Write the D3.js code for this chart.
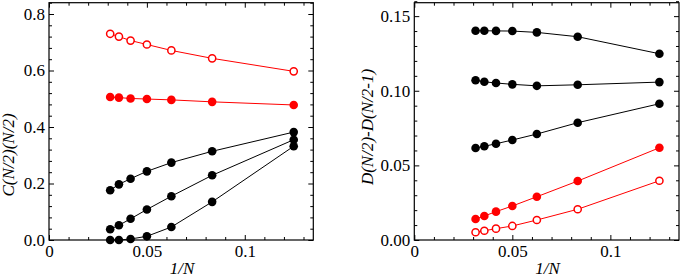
<!DOCTYPE html>
<html>
<head>
<meta charset="utf-8">
<script src="https://cdn.jsdelivr.net/npm/d3@7"></script>
<style>
  body { margin: 0; background: #fff; }
  svg text { font-family: "Times New Roman", Times, "Liberation Serif", serif; fill: #000; }
  .axis path { display: none; }
  .axis line { stroke: #000; stroke-width: 1; }
  .axis text { font-size: 17px; }
  .title { font-size: 17px; font-style: italic; }
</style>
</head>
<body>
<div id="chart"></div>
<script>
// 1/N for N = 32, 28, 24, 20, 16, 12, 8
const invN = [1 / 32, 1 / 28, 1 / 24, 1 / 20, 1 / 16, 1 / 12, 1 / 8];

// left panel: C(N/2)(N/2)
const cOpenRed = [0.730, 0.720, 0.706, 0.692, 0.671, 0.643, 0.597];
const cFilledRed = [0.506, 0.504, 0.501, 0.499, 0.496, 0.489, 0.478];
const cBlackTop = [0.176, 0.197, 0.217, 0.243, 0.274, 0.314, 0.382];
const cBlackMid = [0.038, 0.052, 0.075, 0.108, 0.155, 0.229, 0.355];
const cBlackLow = [0.000, 0.000, 0.0035, 0.013, 0.046, 0.135, 0.332];

// right panel: D(N/2)-D(N/2-1)
const dBlackTop = [0.1402, 0.1402, 0.1401, 0.1400, 0.1391, 0.1362, 0.1248];
const dBlackMid = [0.1070, 0.1060, 0.1052, 0.1043, 0.1033, 0.1040, 0.1058];
const dBlackLow = [0.0616, 0.0628, 0.0645, 0.0670, 0.0710, 0.0786, 0.0913];
const dFilledRed = [0.0141, 0.0161, 0.0190, 0.0228, 0.0290, 0.0395, 0.0618];
const dOpenRed = [0.0052, 0.0062, 0.0076, 0.0094, 0.0134, 0.0206, 0.0397];

const xMajor = [0, 0.05, 0.1];
const leftYMajor = [0, 0.2, 0.4, 0.6, 0.8];
const rightYMajor = [0, 0.05, 0.10, 0.15];

const width = 681, height = 277;
const serif = "Liberation Serif";

const svg = d3.select("#chart").append("svg")
  .attr("width", width)
  .attr("height", height);

function range(start, stop, step) {
  return d3.range(Math.round((stop - start) / step) + 1).map(i => +(start + i * step).toFixed(4));
}

function drawPanel(cfg) {
  const x = d3.scaleLinear().domain([0, 0.135]).range([cfg.left, cfg.right]);
  const y = d3.scaleLinear().domain(cfg.yDomain).range([240, 2.7]);
  const g = svg.append("g");

  const xMinor = range(0, 0.13, 0.01).filter(v => !xMajor.some(m => Math.abs(m - v) < 1e-6));
  const yMinor = range(0, cfg.yDomain[1], cfg.yMinorStep).filter(v => !cfg.yMajor.some(m => Math.abs(m - v) < 1e-6));

  // minor ticks (inward on all four sides)
  const axes = [
    [d3.axisBottom(x), `translate(0,${y.range()[0]})`, xMinor],
    [d3.axisTop(x), `translate(0,${y.range()[1]})`, xMinor],
    [d3.axisLeft(y), `translate(${cfg.left},0)`, yMinor],
    [d3.axisRight(y), `translate(${cfg.right},0)`, yMinor]
  ];
  axes.forEach(([ax, tr, vals]) => {
    g.append("g").attr("class", "axis").attr("transform", tr)
      .call(ax.tickValues(vals).tickSize(-3).tickFormat(""));
  });

  // major ticks
  g.append("g").attr("class", "axis").attr("transform", `translate(0,240)`)
    .call(d3.axisBottom(x).tickValues(xMajor).tickSize(-5).tickPadding(5)
      .tickFormat(d => d === 0 ? "0" : String(d)))
    .attr("font-family", serif).attr("font-size", 17);
  g.append("g").attr("class", "axis").attr("transform", `translate(0,2.7)`)
    .call(d3.axisTop(x).tickValues(xMajor).tickSize(-5).tickFormat(""));
  g.append("g").attr("class", "axis").attr("transform", `translate(${cfg.left},0)`)
    .call(d3.axisLeft(y).tickValues(cfg.yMajor).tickSize(-5).tickPadding(4)
      .tickFormat(d3.format(cfg.yFormat)))
    .attr("font-family", serif).attr("font-size", 17);
  g.append("g").attr("class", "axis").attr("transform", `translate(${cfg.right},0)`)
    .call(d3.axisRight(y).tickValues(cfg.yMajor).tickSize(-5).tickFormat(""));

  // frame
  g.append("rect")
    .attr("x", cfg.left).attr("y", 2.7)
    .attr("width", cfg.right - cfg.left).attr("height", 240 - 2.7)
    .attr("fill", "none").attr("stroke", "#000").attr("stroke-width", 1.2);

  const line = d3.line().x((d, i) => x(invN[i])).y(d => y(d));

  cfg.series.forEach(s => {
    g.append("path")
      .datum(s.values)
      .attr("d", line)
      .attr("fill", "none")
      .attr("stroke", s.color)
      .attr("stroke-width", 1);
    g.selectAll(null)
      .data(s.values)
      .join("circle")
      .attr("cx", (d, i) => x(invN[i]))
      .attr("cy", d => y(d))
      .attr("r", s.open ? 3.6 : 4.3)
      .attr("fill", s.open ? "#fff" : s.color)
      .attr("stroke", s.color)
      .attr("stroke-width", s.open ? 1.5 : 0);
  });

  // axis titles
  svg.append("text").attr("class", "title")
    .attr("font-family", serif)
    .attr("x", (cfg.left + cfg.right) / 2 + 1)
    .attr("y", 274)
    .attr("text-anchor", "middle")
    .text("1/N");
  svg.append("text").attr("class", "title")
    .attr("font-family", serif)
    .attr("transform", `translate(${cfg.titleX},${cfg.titleY}) rotate(-90)`)
    .attr("text-anchor", "middle")
    .text(cfg.yTitle);
}

drawPanel({
  left: 49, right: 313.3,
  yDomain: [0, 0.84], yMajor: leftYMajor, yMinorStep: 0.04, yFormat: ".1f",
  yTitle: "C(N/2)(N/2)", titleX: 14, titleY: 155,
  series: [
    { values: cOpenRed, color: "#ff0000", open: true },
    { values: cFilledRed, color: "#ff0000", open: false },
    { values: cBlackTop, color: "#000", open: false },
    { values: cBlackMid, color: "#000", open: false },
    { values: cBlackLow, color: "#000", open: false }
  ]
});

drawPanel({
  left: 414.3, right: 679,
  yDomain: [0, 0.159], yMajor: rightYMajor, yMinorStep: 0.01, yFormat: ".2f",
  yTitle: "D(N/2)-D(N/2-1)", titleX: 373, titleY: 127,
  series: [
    { values: dBlackTop, color: "#000", open: false },
    { values: dBlackMid, color: "#000", open: false },
    { values: dBlackLow, color: "#000", open: false },
    { values: dFilledRed, color: "#ff0000", open: false },
    { values: dOpenRed, color: "#ff0000", open: true }
  ]
});
</script>
</body>
</html>
